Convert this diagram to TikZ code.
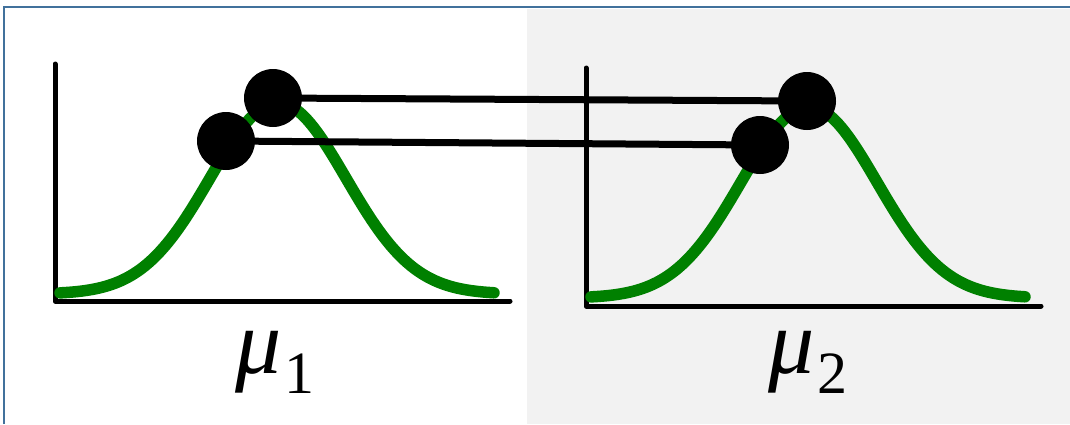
\documentclass[tikz,border=0pt]{standalone}
\usepackage{fontspec}
\newfontfamily\labfont{Liberation Serif}
\definecolor{curvegreen}{HTML}{008000}
\definecolor{panelgray}{HTML}{F2F2F2}
\definecolor{framecol}{HTML}{41719C}
\begin{document}
\begin{tikzpicture}[x=1pt,y=-1pt,
  axis/.style={line width=5pt, line cap=round, line join=round},
  curve/.style={line width=11.5pt, draw=curvegreen, line cap=round, line join=round},
  dot/.style={circle, fill=black, minimum size=58pt, inner sep=0pt},
  link/.style={line width=7pt},
  lab/.style={inner sep=0pt, anchor=base, font=\labfont}]
\useasboundingbox (0,0) rectangle (1070,424);
\fill[panelgray] (527,9) rectangle (1070,424);
\draw[framecol, line width=2.5pt] (4,424) -- (4,7) -- (1070,7);
% left panel
\draw[axis] (55,64) -- (55,301) -- (510,301);
\draw[curve] plot[domain=60:494, samples=80, smooth] (\x, {294 - 191*exp(-0.5*((\x-278)/68)^2)});
% right panel
\begin{scope}[shift={(531,4)}]
\draw[axis] (55,64) -- (55,302) -- (510,302);
\draw[curve] plot[domain=60:494, samples=80, smooth] (\x, {294 - 191*exp(-0.5*((\x-278)/68)^2)});
\end{scope}
% dots
\node[dot] (l1) at (226,141) {};
\node[dot] (l2) at (273,98) {};
\node[dot] (r1) at (760,145) {};
\node[dot] (r2) at (807,101) {};
\draw[link] (l2) -- (r2);
\draw[link] (l1) -- (r1);
% labels
\node[lab] (m1) at (275,373) {{\fontsize{92}{92}\selectfont\itshape μ}\kern2pt\raisebox{-20pt}{\fontsize{60}{60}\selectfont 1}};
\node[lab] (m2) at (808,373) {{\fontsize{92}{92}\selectfont\itshape μ}\kern2pt\raisebox{-20pt}{\fontsize{60}{60}\selectfont 2}};
\end{tikzpicture}
\end{document}
